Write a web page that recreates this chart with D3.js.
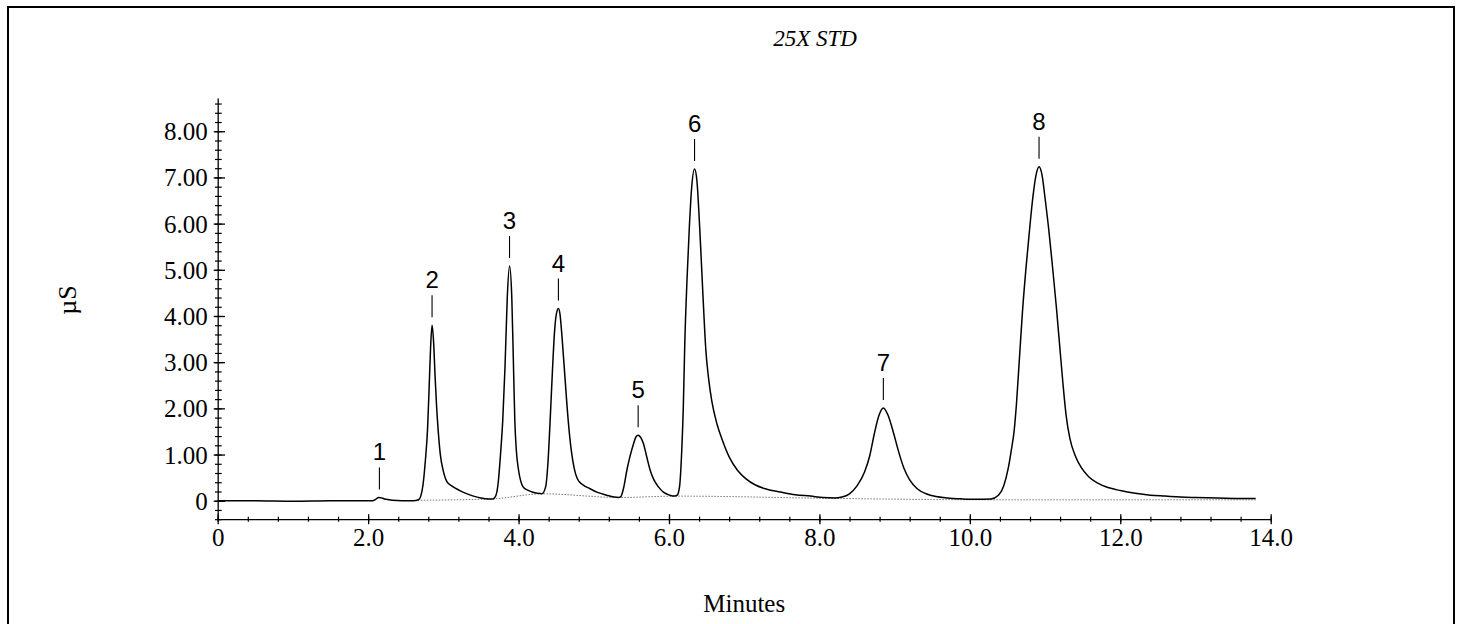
<!DOCTYPE html>
<html>
<head>
<meta charset="utf-8">
<script src="https://cdn.jsdelivr.net/npm/d3@7"></script>
<style>
  html, body { margin: 0; padding: 0; background: #fff; }
  svg { display: block; }
  .serif { font-family: "Liberation Serif", "Times New Roman", serif; fill: #000; }
  .sans { font-family: "Liberation Sans", Arial, sans-serif; fill: #000; }
</style>
</head>
<body>
<svg id="chart" width="1458" height="624"></svg>
<script>
// Conductivity trace (minutes, µS)
const traceTime = [
  0.00, 0.50, 1.00, 1.50, 2.00, 2.06, 2.10, 2.14, 2.18, 2.24, 2.32, 2.45, 2.60,
  2.67, 2.70, 2.73, 2.76, 2.79, 2.81, 2.83, 2.85, 2.87, 2.89, 2.91, 2.93, 2.96,
  3.00, 3.045, 3.12, 3.22, 3.30, 3.40, 3.50, 3.60, 3.66,
  3.70, 3.73, 3.76, 3.79, 3.82, 3.85, 3.88, 3.91, 3.93, 3.95, 3.97, 4.00, 4.03,
  4.06, 4.12, 4.18, 4.25, 4.31,
  4.36, 4.39, 4.42, 4.45, 4.48, 4.51, 4.53, 4.55, 4.58, 4.62, 4.66, 4.70, 4.74,
  4.78, 4.85, 4.95, 5.05, 5.17, 5.27, 5.33,
  5.36, 5.40, 5.44, 5.48, 5.53, 5.56, 5.59, 5.62, 5.66, 5.70, 5.75, 5.80, 5.86,
  5.93, 6.01, 6.08,
  6.11, 6.14, 6.17, 6.19, 6.21, 6.24, 6.27, 6.30, 6.34, 6.37, 6.41, 6.45, 6.49,
  6.53, 6.57, 6.64, 6.71, 6.80, 6.91, 7.02, 7.15, 7.30, 7.48, 7.68, 7.88, 8.05,
  8.20, 8.30, 8.40, 8.50, 8.60, 8.67, 8.73, 8.79, 8.85, 8.91, 8.98, 9.05, 9.12,
  9.20, 9.30, 9.42, 9.55, 9.70, 9.90, 10.10,
  10.28, 10.38, 10.45, 10.51, 10.55, 10.59, 10.62, 10.66, 10.70, 10.75, 10.79,
  10.84, 10.88, 10.92, 10.96, 11.00, 11.05, 11.10, 11.15, 11.20, 11.24, 11.28,
  11.33, 11.40, 11.48, 11.58, 11.70, 11.85, 12.00, 12.20, 12.40, 12.60, 12.80,
  13.00, 13.30, 13.60, 13.80
];
const traceUS = [
  0.00, 0.00, -0.01, 0.00, 0.00, 0.00, 0.03, 0.07, 0.06, 0.03, 0.01, 0.00, 0.00,
  0.02, 0.10, 0.35, 0.85, 1.55, 2.40, 3.30, 3.80, 3.45, 2.70, 2.05, 1.55, 1.00,
  0.64, 0.42, 0.31, 0.22, 0.16, 0.10, 0.06, 0.04, 0.04,
  0.12, 0.40, 1.00, 1.75, 2.90, 4.40, 5.08, 4.40, 3.10, 1.75, 1.10, 0.66, 0.42,
  0.30, 0.23, 0.19, 0.16, 0.15,
  0.30, 0.80, 1.74, 2.80, 3.70, 4.10, 4.16, 4.05, 3.50, 2.60, 1.74, 1.10, 0.70,
  0.48, 0.35, 0.26, 0.18, 0.12, 0.08, 0.07,
  0.09, 0.30, 0.66, 0.95, 1.24, 1.38, 1.42, 1.38, 1.24, 0.98, 0.66, 0.45, 0.30,
  0.18, 0.12, 0.10,
  0.12, 0.30, 1.10, 2.00, 3.40, 4.80, 5.90, 6.75, 7.18, 6.95, 5.86, 4.50, 3.26,
  2.60, 2.15, 1.65, 1.31, 0.95, 0.66, 0.48, 0.34, 0.25, 0.19, 0.13, 0.10, 0.07,
  0.06, 0.08, 0.15, 0.32, 0.62, 0.98, 1.45, 1.84, 2.01, 1.86, 1.50, 1.08, 0.72,
  0.45, 0.26, 0.15, 0.09, 0.06, 0.04, 0.03,
  0.04, 0.12, 0.32, 0.70, 1.08, 1.53, 2.10, 3.10, 4.10, 5.10, 5.80,
  6.60, 7.05, 7.23, 7.05, 6.55, 5.86, 5.05, 4.20, 3.25, 2.50, 1.85,
  1.35, 0.98, 0.72, 0.52, 0.38, 0.28, 0.22, 0.16, 0.12, 0.10, 0.08,
  0.07, 0.06, 0.05, 0.05
];

// Integration baseline under the peaks
const baseTime = [2.66, 3.65, 4.32, 5.34, 6.10, 8.20, 10.25, 13.80];
const baseUS   = [0.01, 0.04, 0.15, 0.07, 0.10, 0.05, 0.02, 0.02];

// Identified peaks
const peakName   = ["1", "2", "3", "4", "5", "6", "7", "8"];
const peakTime   = [2.15, 2.85, 3.88, 4.53, 5.59, 6.34, 8.85, 10.92];
const peakHeight = [0.07, 3.80, 5.08, 4.16, 1.42, 7.18, 2.01, 7.23];

// Axis ticks
const xTickValues = [0, 2, 4, 6, 8, 10, 12, 14];
const xTickLabels = ["0", "2.0", "4.0", "6.0", "8.0", "10.0", "12.0", "14.0"];
const yTickValues = [0, 1, 2, 3, 4, 5, 6, 7, 8];
const yTickLabels = ["0", "1.00", "2.00", "3.00", "4.00", "5.00", "6.00", "7.00", "8.00"];

const titleText = "25X STD";
const xTitle = "Minutes";
const yTitle = "µS";

const svg = d3.select("#chart");

// outer frame
svg.append("rect")
  .attr("x", 8).attr("y", 7)
  .attr("width", 1446).attr("height", 630)
  .attr("fill", "none").attr("stroke", "#000").attr("stroke-width", 2);

const x = d3.scaleLinear().domain([0, 14]).range([217.7, 1270.7]);
const y = d3.scaleLinear().domain([-0.4, 8.72]).range([519.2, 98]);

const axisY0 = y(-0.4);
const axisX0 = x(0);

// ---- x axis ----
const gx = svg.append("g").attr("transform", `translate(0,${axisY0})`);
gx.call(d3.axisBottom(x).tickValues(d3.range(0, 14.001, 0.4)).tickFormat("").tickSizeOuter(0))
  .call(g => g.select(".domain").remove())
  .call(g => g.selectAll(".tick line").attr("y1", -2.5).attr("y2", 2.5).attr("stroke-width", 1.2));
const gx2 = svg.append("g").attr("transform", `translate(0,${axisY0})`);
gx2.call(d3.axisBottom(x).tickValues(xTickValues)
    .tickFormat((d, i) => xTickLabels[i]).tickSizeOuter(0))
  .call(g => g.select(".domain").attr("stroke-width", 1.3))
  .call(g => g.selectAll(".tick line").attr("y1", -5).attr("y2", 5).attr("stroke-width", 1.3))
  .call(g => g.selectAll(".tick text")
      .attr("class", "serif").attr("y", 9).attr("dy", "0.72em")
      .style("font-size", "25px").attr("font-family", null));

// ---- y axis ----
const gy = svg.append("g").attr("transform", `translate(${axisX0},0)`);
gy.call(d3.axisLeft(y).tickValues(d3.range(-0.4, 8.72, 0.2)).tickFormat("").tickSizeOuter(0))
  .call(g => g.select(".domain").remove())
  .call(g => g.selectAll(".tick line").attr("x1", -2.7).attr("x2", 4).attr("stroke-width", 1.2));
const gy2 = svg.append("g").attr("transform", `translate(${axisX0},0)`);
gy2.call(d3.axisLeft(y).tickValues(yTickValues)
    .tickFormat((d, i) => yTickLabels[i]).tickSizeOuter(0))
  .call(g => g.select(".domain").attr("stroke-width", 1.3))
  .call(g => g.selectAll(".tick line").attr("x1", -4).attr("x2", 7.3).attr("stroke-width", 1.3))
  .call(g => g.selectAll(".tick text")
      .attr("class", "serif").attr("x", -10).attr("dy", "0.34em")
      .style("font-size", "25px").attr("font-family", null));

// ---- baseline and trace ----
svg.append("path")
  .datum(baseTime.map((t, i) => [t, baseUS[i]]))
  .attr("fill", "none").attr("stroke", "#777").attr("stroke-width", 1)
  .attr("stroke-dasharray", "1.5,1.5")
  .attr("d", d3.line().x(d => x(d[0])).y(d => y(d[1])).curve(d3.curveMonotoneX));

svg.append("path")
  .datum(traceTime.map((t, i) => [t, traceUS[i]]))
  .attr("fill", "none").attr("stroke", "#000").attr("stroke-width", 1.5)
  .attr("stroke-linejoin", "round")
  .attr("d", d3.line().x(d => x(d[0])).y(d => y(d[1])).curve(d3.curveMonotoneX));

// ---- peak annotations ----
const pk = svg.append("g");
peakName.forEach((name, i) => {
  const px = x(peakTime[i]);
  const py = y(peakHeight[i]);
  pk.append("line")
    .attr("x1", px).attr("x2", px)
    .attr("y1", py - 8).attr("y2", py - 30)
    .attr("stroke", "#000").attr("stroke-width", 1.1);
  pk.append("text")
    .attr("class", "sans")
    .attr("x", px).attr("y", py - 37)
    .attr("text-anchor", "middle")
    .style("font-size", "24px")
    .text(name);
});

// ---- titles ----
svg.append("text").attr("class", "serif")
  .attr("x", 815).attr("y", 46)
  .attr("text-anchor", "middle")
  .style("font-size", "23px").style("font-style", "italic")
  .text(titleText);

svg.append("text").attr("class", "serif")
  .attr("x", (x.range()[0] + x.range()[1]) / 2).attr("y", 612)
  .attr("text-anchor", "middle")
  .style("font-size", "25px")
  .text(xTitle);

svg.append("text").attr("class", "serif")
  .attr("transform", "translate(76,300) rotate(-90)")
  .attr("text-anchor", "middle")
  .style("font-size", "26px")
  .text(yTitle);
</script>
</body>
</html>
